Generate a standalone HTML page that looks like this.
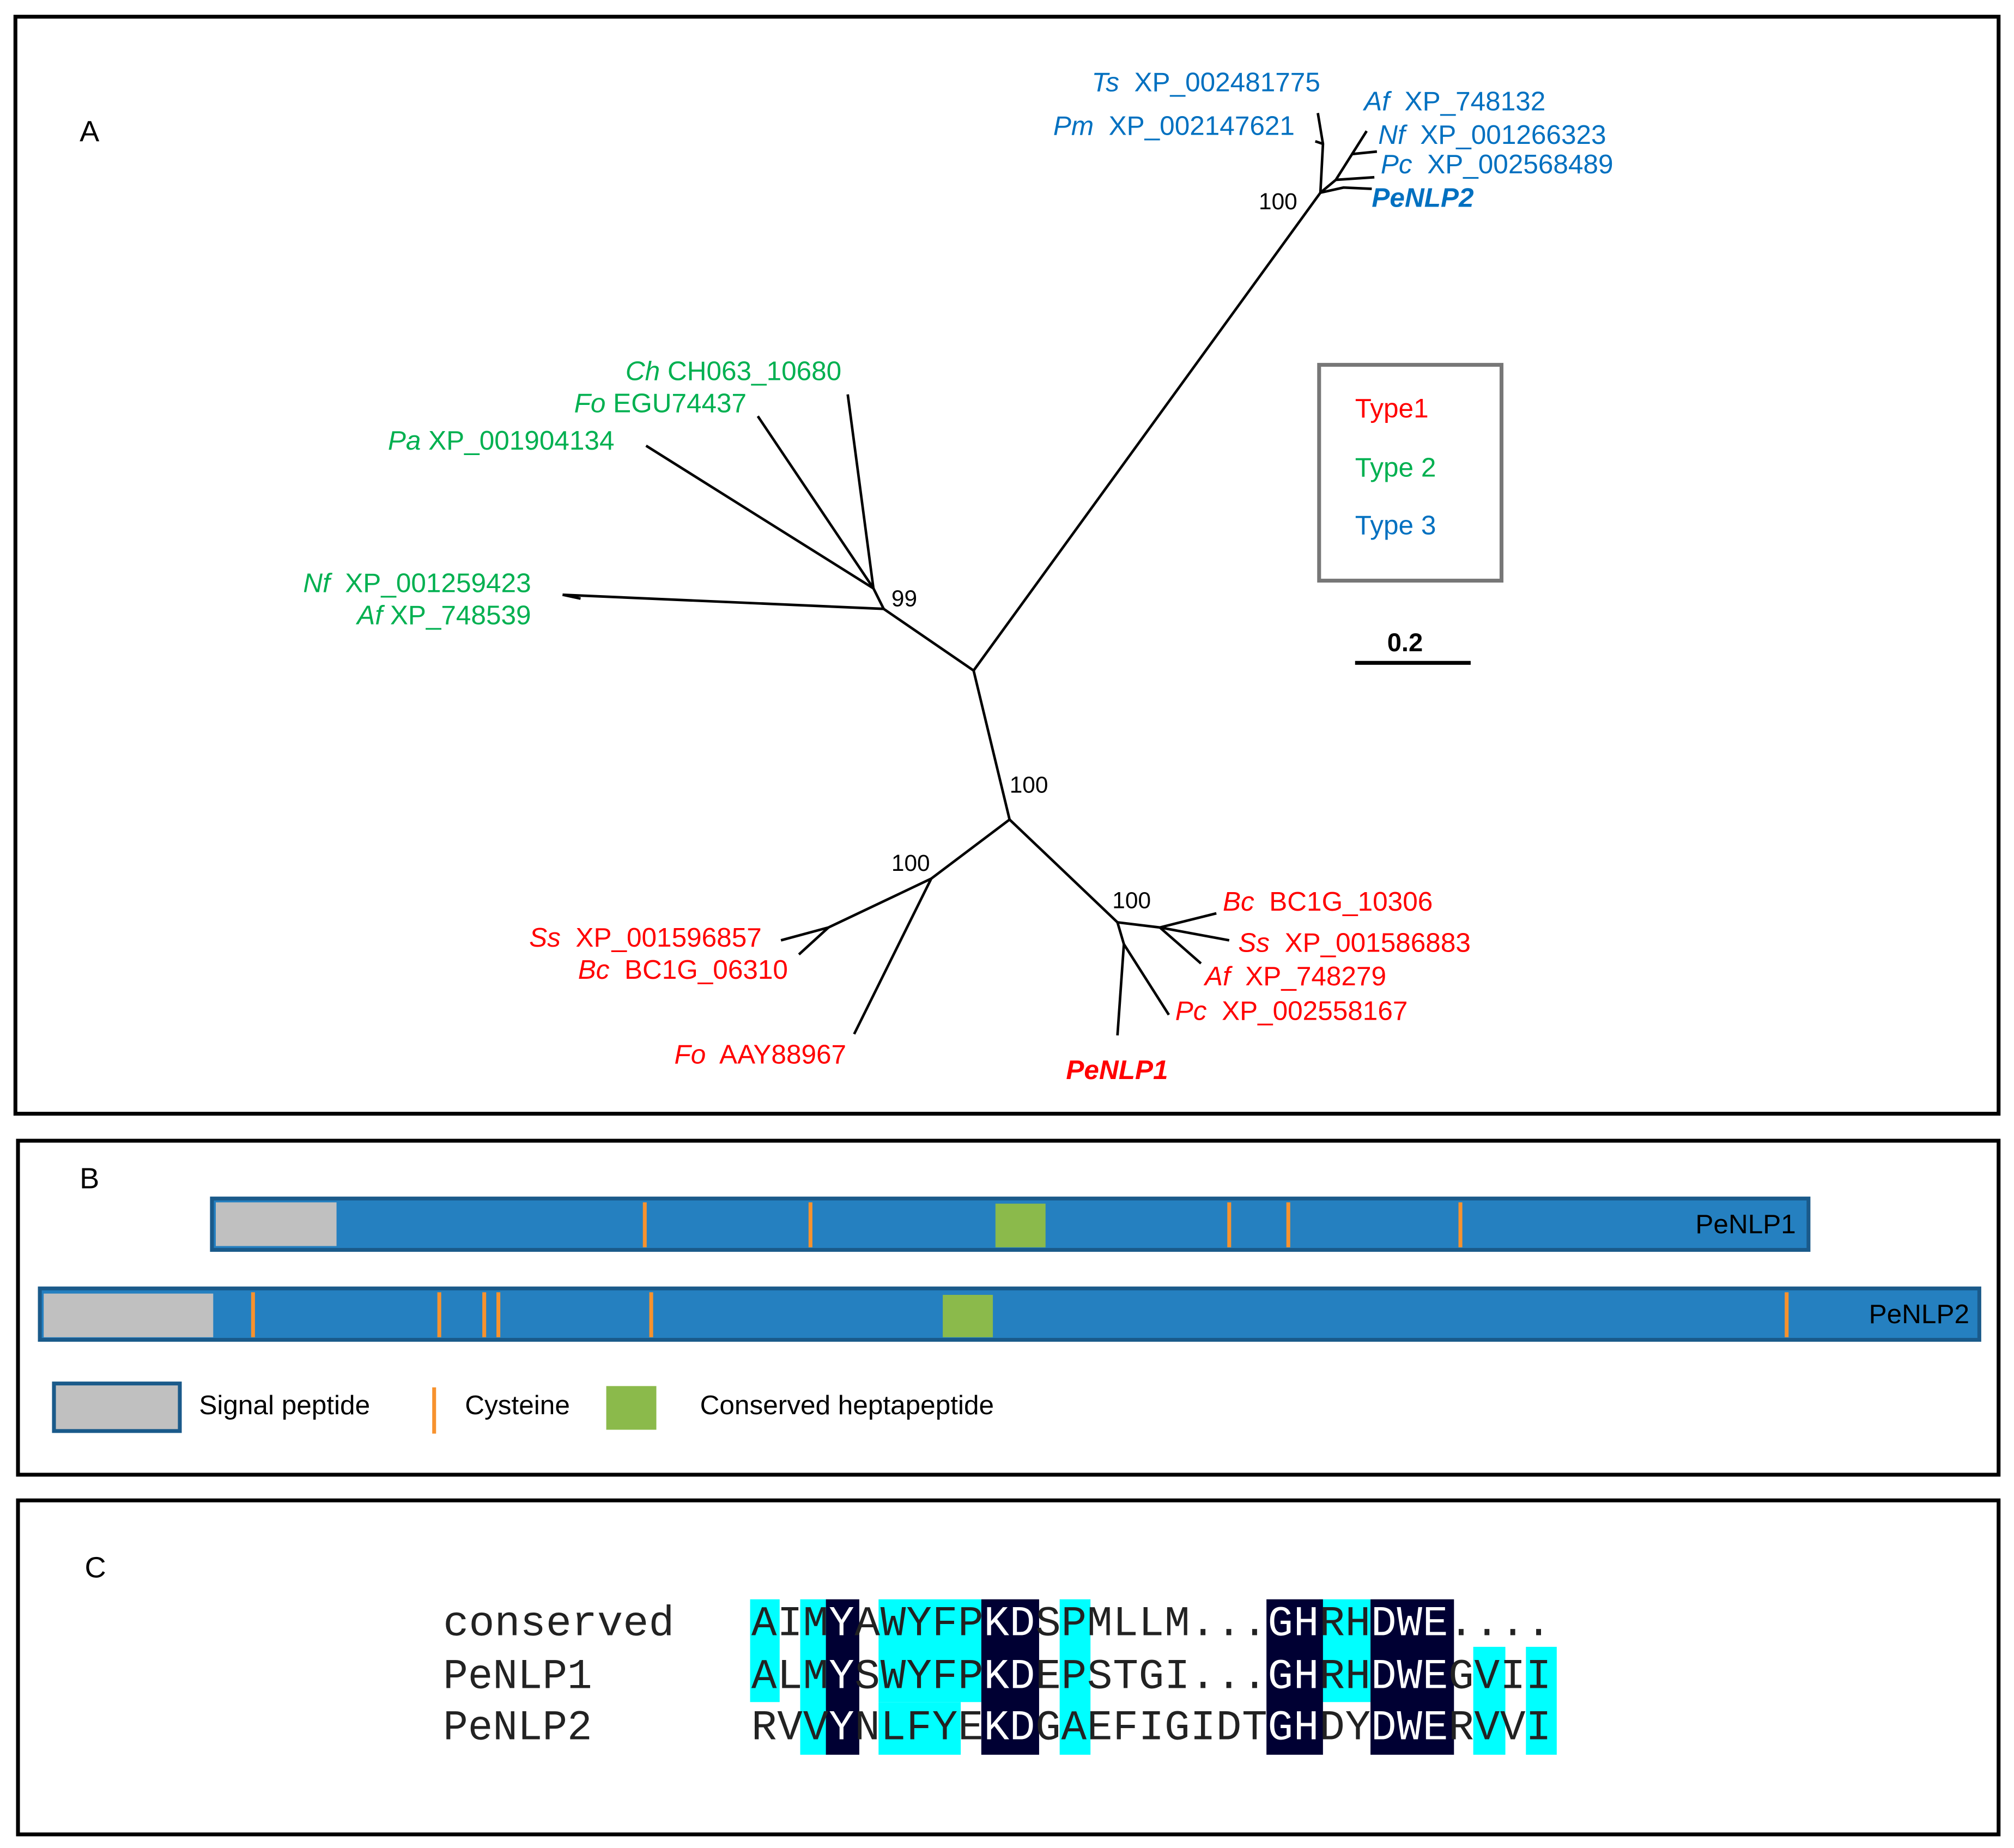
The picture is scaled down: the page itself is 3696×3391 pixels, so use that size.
<!DOCTYPE html>
<html><head><meta charset="utf-8"><style>html,body{margin:0;padding:0;background:#fff}svg{display:block}</style></head>
<body>
<svg width="3696" height="3391" viewBox="0 0 1568 1438.6" preserveAspectRatio="none" xmlns="http://www.w3.org/2000/svg" font-family="Liberation Sans, Arial, sans-serif">
<rect x="0" y="0" width="1568" height="1439" fill="#fff"/>
<!-- frames -->
<rect x="12" y="13" width="1544" height="854" fill="none" stroke="#000" stroke-width="3"/>
<rect x="14" y="888" width="1542" height="260" fill="none" stroke="#000" stroke-width="3"/>
<rect x="14" y="1168" width="1542" height="260" fill="none" stroke="#000" stroke-width="3"/>
<text x="62" y="110" font-size="23">A</text>
<text x="62" y="925" font-size="23">B</text>
<text x="66" y="1228" font-size="23">C</text>

<!-- tree -->
<g stroke="#000" stroke-width="2" fill="none">
<line x1="758" y1="522" x2="1028" y2="150"/>
<line x1="758" y1="522" x2="786" y2="638"/>
<line x1="758" y1="522" x2="688" y2="474"/>
<polyline points="1028,150 1030,112 1026,88"/>
<line x1="1030" y1="112" x2="1024" y2="110"/>
<polyline points="1028,150 1040,140 1064,102"/>
<line x1="1052" y1="120" x2="1072" y2="118"/>
<line x1="1040" y1="140" x2="1070" y2="138"/>
<polyline points="1028,150 1046,146 1068,147"/>
<line x1="688" y1="474" x2="438" y2="463"/>
<line x1="438" y1="463" x2="452" y2="466"/>
<line x1="688" y1="474" x2="680" y2="458"/>
<line x1="680" y1="458" x2="503" y2="347"/>
<line x1="680" y1="458" x2="590" y2="324"/>
<line x1="680" y1="458" x2="660" y2="307"/>
<line x1="786" y1="638" x2="725" y2="684"/>
<line x1="725" y1="684" x2="645" y2="722"/>
<line x1="645" y1="722" x2="608" y2="732"/>
<line x1="645" y1="722" x2="622" y2="743"/>
<line x1="725" y1="684" x2="665" y2="805"/>
<line x1="786" y1="638" x2="870" y2="718"/>
<line x1="870" y1="718" x2="903" y2="722"/>
<line x1="903" y1="722" x2="947" y2="711"/>
<line x1="903" y1="722" x2="957" y2="732"/>
<line x1="903" y1="722" x2="935" y2="750"/>
<line x1="870" y1="718" x2="875" y2="735"/>
<line x1="875" y1="735" x2="870" y2="806"/>
<line x1="875" y1="735" x2="910" y2="790"/>
</g>

<g font-size="21">
<g fill="#0070c0">
<text x="850" y="71"><tspan font-style="italic">Ts</tspan>&#160; XP_002481775</text>
<text x="820" y="105"><tspan font-style="italic">Pm</tspan>&#160; XP_002147621</text>
<text x="1062" y="86"><tspan font-style="italic">Af</tspan>&#160; XP_748132</text>
<text x="1073" y="112"><tspan font-style="italic">Nf</tspan>&#160; XP_001266323</text>
<text x="1075" y="135"><tspan font-style="italic">Pc</tspan>&#160; XP_002568489</text>
<text x="1068" y="161" font-style="italic" font-weight="bold">PeNLP2</text>
</g>
<g fill="#00b050">
<text x="487" y="296"><tspan font-style="italic">Ch</tspan> CH063_10680</text>
<text x="447" y="321"><tspan font-style="italic">Fo</tspan> EGU74437</text>
<text x="302" y="350"><tspan font-style="italic">Pa</tspan> XP_001904134</text>
<text x="236" y="461"><tspan font-style="italic">Nf</tspan>&#160; XP_001259423</text>
<text x="278" y="486"><tspan font-style="italic">Af</tspan> XP_748539</text>
</g>
<g fill="#ff0000">
<text x="412" y="737"><tspan font-style="italic">Ss</tspan>&#160; XP_001596857</text>
<text x="450" y="762"><tspan font-style="italic">Bc</tspan>&#160; BC1G_06310</text>
<text x="525" y="828"><tspan font-style="italic">Fo</tspan>&#160; AAY88967</text>
<text x="830" y="840" font-style="italic" font-weight="bold">PeNLP1</text>
<text x="952" y="709"><tspan font-style="italic">Bc</tspan>&#160; BC1G_10306</text>
<text x="964" y="741"><tspan font-style="italic">Ss</tspan>&#160; XP_001586883</text>
<text x="938" y="767"><tspan font-style="italic">Af</tspan>&#160; XP_748279</text>
<text x="915" y="794"><tspan font-style="italic">Pc</tspan>&#160; XP_002558167</text>
</g>
</g>
<g font-size="18" fill="#000">
<text x="980" y="163">100</text>
<text x="694" y="472">99</text>
<text x="786" y="617">100</text>
<text x="694" y="678">100</text>
<text x="866" y="707">100</text>
</g>
<rect x="1027" y="284" width="142" height="168" fill="none" stroke="#777" stroke-width="3"/>
<text x="1055" y="325" font-size="21" fill="#ff0000">Type1</text>
<text x="1055" y="371" font-size="21" fill="#00b050">Type 2</text>
<text x="1055" y="416" font-size="21" fill="#0070c0">Type 3</text>
<text x="1080" y="507" font-size="20" font-weight="bold">0.2</text>
<line x1="1055" y1="516" x2="1145" y2="516" stroke="#000" stroke-width="3"/>

<!-- panel B -->
<rect x="165" y="933" width="1243" height="40" fill="#2580c0" stroke="#1a5a8a" stroke-width="3"/>
<rect x="168" y="936" width="94" height="34" fill="#c0c0c0"/>
<g stroke="#f7922e" stroke-width="3">
<line x1="502" y1="936" x2="502" y2="971"/><line x1="631" y1="936" x2="631" y2="971"/>
<line x1="957" y1="936" x2="957" y2="971"/><line x1="1003" y1="936" x2="1003" y2="971"/>
<line x1="1137" y1="936" x2="1137" y2="971"/>
</g>
<rect x="775" y="937" width="39" height="34" fill="#8bba4b"/>
<text x="1320" y="960" font-size="21">PeNLP1</text>

<rect x="31" y="1003" width="1510" height="40" fill="#2580c0" stroke="#1a5a8a" stroke-width="3"/>
<rect x="34" y="1007" width="132" height="34" fill="#c0c0c0"/>
<g stroke="#f7922e" stroke-width="3">
<line x1="197" y1="1006" x2="197" y2="1041"/><line x1="342" y1="1006" x2="342" y2="1041"/>
<line x1="377" y1="1006" x2="377" y2="1041"/><line x1="388" y1="1006" x2="388" y2="1041"/>
<line x1="507" y1="1006" x2="507" y2="1041"/><line x1="1391" y1="1006" x2="1391" y2="1041"/>
</g>
<rect x="734" y="1008" width="39" height="33" fill="#8bba4b"/>
<text x="1455" y="1030" font-size="21">PeNLP2</text>

<rect x="42" y="1077" width="98" height="37" fill="#c0c0c0" stroke="#1a5a8a" stroke-width="3"/>
<text x="155" y="1101" font-size="21">Signal peptide</text>
<line x1="338" y1="1080" x2="338" y2="1116" stroke="#f7922e" stroke-width="3"/>
<text x="362" y="1101" font-size="21">Cysteine</text>
<rect x="472" y="1079" width="39" height="34" fill="#8bba4b"/>
<text x="545" y="1101" font-size="21">Conserved heptapeptide</text>

<!-- panel C highlights -->
<g fill="#00ffff">
<rect x="584" y="1245" width="23" height="80"/>
<rect x="623" y="1245" width="21" height="121"/>
<rect x="684" y="1245" width="80" height="80"/>
<rect x="684" y="1325" width="64" height="41"/>
<rect x="825" y="1245" width="24" height="121"/>
<rect x="1027" y="1245" width="40" height="80"/>
<rect x="1147" y="1282" width="25" height="84"/>
<rect x="1188" y="1282" width="24" height="84"/>
</g>
<g fill="#000033">
<rect x="643" y="1245" width="26" height="121"/>
<rect x="764" y="1245" width="45" height="121"/>
<rect x="986" y="1245" width="44" height="121"/>
<rect x="1067" y="1245" width="65" height="121"/>
</g>
<g font-family="Liberation Mono, Courier New, monospace" font-size="33" fill="#222">
<text x="345" y="1273" textLength="180" lengthAdjust="spacingAndGlyphs">conserved</text>
<text x="345" y="1314" textLength="116" lengthAdjust="spacingAndGlyphs">PeNLP1</text>
<text x="345" y="1354" textLength="116" lengthAdjust="spacingAndGlyphs">PeNLP2</text>
<text y="1273" x="585 605.1 625.2 645.3 665.4 685.5 705.6 725.7 745.8 765.9 786 806.1 826.2 846.3 866.4 886.5 906.6 926.7 946.8 966.9 987 1007.1 1027.2 1047.3 1067.4 1087.5 1107.6 1127.7 1147.8 1167.9 1188">AIM<tspan fill="#fff">Y</tspan>AWYFP<tspan fill="#fff">KD</tspan>SPMLLM...<tspan fill="#fff">GH</tspan>RH<tspan fill="#fff">DWE</tspan>....</text>
<text y="1314" x="585 605.1 625.2 645.3 665.4 685.5 705.6 725.7 745.8 765.9 786 806.1 826.2 846.3 866.4 886.5 906.6 926.7 946.8 966.9 987 1007.1 1027.2 1047.3 1067.4 1087.5 1107.6 1127.7 1147.8 1167.9 1188">ALM<tspan fill="#fff">Y</tspan>SWYFP<tspan fill="#fff">KD</tspan>EPSTGI...<tspan fill="#fff">GH</tspan>RH<tspan fill="#fff">DWE</tspan>GVII</text>
<text y="1354" x="585 605.1 625.2 645.3 665.4 685.5 705.6 725.7 745.8 765.9 786 806.1 826.2 846.3 866.4 886.5 906.6 926.7 946.8 966.9 987 1007.1 1027.2 1047.3 1067.4 1087.5 1107.6 1127.7 1147.8 1167.9 1188">RVV<tspan fill="#fff">Y</tspan>NLFYE<tspan fill="#fff">KD</tspan>GAEFIGIDT<tspan fill="#fff">GH</tspan>DY<tspan fill="#fff">DWE</tspan>RVVI</text>
</g>
</svg>
</body></html>
